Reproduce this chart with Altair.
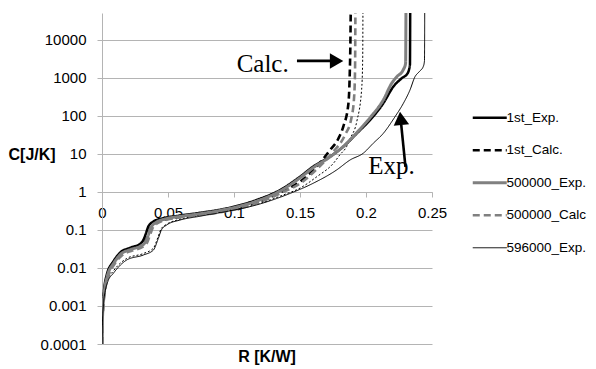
import altair as alt
import pandas as pd

SERIES = ["1st_Exp.", "1st_Calc.", "500000_Exp.", "500000_Calc", "596000_Exp."]
COLORS = ["#000000", "#000000", "#808080", "#808080", "#000000"]
DASHES = [[1, 0], [7, 4], [1, 0], [7, 4], [1, 0]]
WIDTHS = [2.5, 2.6, 3.0, 2.6, 1.0]

X_TICKS = [0, 0.05, 0.1, 0.15, 0.2, 0.25]
Y_TICKS = [0.0001, 0.001, 0.01, 0.1, 1, 10, 100, 1000, 10000]

r_1st_exp = [0, 0.0002, 0.0006, 0.0015, 0.0036, 0.0086, 0.0136, 0.0212, 0.0288, 0.0315, 0.0332,
             0.0351, 0.0389, 0.0464, 0.059, 0.074, 0.0919, 0.1172, 0.1348, 0.15, 0.1601, 0.1727,
             0.1828, 0.1930, 0.2030, 0.2131, 0.2207, 0.2270, 0.2315, 0.2333, 0.2335]
c_1st_exp = [0.0001, 0.000316, 0.001, 0.00251, 0.0066, 0.0148, 0.0251, 0.0339, 0.0427, 0.0562, 0.0794,
             0.123, 0.166, 0.204, 0.240, 0.282, 0.355, 0.617, 1.12, 2.51, 4.68, 8.51,
             15.5, 34.7, 77.6, 214, 589, 977, 1318, 2239, 100000]

r_1st_calc = [0, 0.0002, 0.0007, 0.0017, 0.004, 0.009, 0.014, 0.022, 0.030, 0.0335, 0.0352,
              0.0372, 0.041, 0.048, 0.06, 0.075, 0.0919, 0.1172, 0.1373, 0.15, 0.1627, 0.1727,
              0.1790, 0.1828, 0.1866, 0.1876, 0.1882, 0.1885]
c_1st_calc = [0.0001, 0.000282, 0.000891, 0.00224, 0.00631, 0.0138, 0.0234, 0.0316, 0.0398, 0.055, 0.0794,
              0.120, 0.158, 0.191, 0.224, 0.257, 0.316, 0.525, 1.07, 1.86, 4.68, 12.6,
              25.1, 52.5, 200, 1000, 10000, 100000]

r_500k_exp = [0, 0.0002, 0.0007, 0.0017, 0.004, 0.009, 0.014, 0.022, 0.030, 0.0335, 0.0352,
              0.0372, 0.041, 0.048, 0.06, 0.075, 0.0919, 0.1172, 0.1348, 0.15, 0.1601, 0.1727,
              0.1828, 0.1930, 0.2030, 0.2131, 0.2195, 0.2233, 0.2280, 0.2300, 0.2303]
c_500k_exp = [0.0001, 0.000282, 0.000891, 0.00224, 0.00603, 0.0135, 0.0229, 0.0309, 0.0389, 0.0525, 0.0759,
              0.117, 0.158, 0.195, 0.229, 0.269, 0.339, 0.575, 1.05, 2.34, 4.37, 8.32,
              15.8, 36.3, 89.1, 263, 724, 1072, 1585, 2399, 100000]

r_500k_calc = [0, 0.0002, 0.0008, 0.0019, 0.0045, 0.0095, 0.015, 0.023, 0.031, 0.0345, 0.0362,
               0.0382, 0.042, 0.049, 0.061, 0.076, 0.0919, 0.1172, 0.1373, 0.15, 0.1627, 0.1750,
               0.1841, 0.1890, 0.1910, 0.1917, 0.1920]
c_500k_calc = [0.0001, 0.000251, 0.000794, 0.002, 0.00562, 0.0126, 0.0214, 0.0288, 0.0363, 0.049, 0.0708,
               0.110, 0.151, 0.186, 0.219, 0.251, 0.302, 0.501, 1.0, 1.66, 3.98, 11.2,
               31.6, 89.1, 316, 1585, 100000]

r_596k_exp = [0, 0.0003, 0.001, 0.0025, 0.0045, 0.0086, 0.0187, 0.0313, 0.0389, 0.0427, 0.045,
              0.049, 0.059, 0.074, 0.0919, 0.1172, 0.1424, 0.1601, 0.1778, 0.1879, 0.1980, 0.2055,
              0.2131, 0.2220, 0.2283, 0.2333, 0.2371, 0.2405, 0.2434, 0.2443, 0.2445]
c_596k_exp = [0.0001, 0.000316, 0.001, 0.00251, 0.00447, 0.00724, 0.0162, 0.0219, 0.0295, 0.0603, 0.1,
              0.135, 0.182, 0.229, 0.295, 0.457, 0.912, 1.70, 3.80, 6.92, 10.5, 19.1,
              34.7, 95.5, 214, 479, 1072, 1479, 1995, 2818, 100000]

# thin dotted curve (no legend entry visible)
r_596k_calc = [0, 0.0003, 0.001, 0.0025, 0.0045, 0.0086, 0.0187, 0.0313, 0.0389, 0.0425, 0.0448,
               0.049, 0.059, 0.074, 0.0919, 0.1172, 0.1373, 0.15, 0.1627, 0.1752, 0.1803, 0.1854,
               0.1879, 0.1930, 0.1967, 0.1975, 0.1977]
c_596k_calc = [0.0001, 0.000355, 0.00112, 0.00282, 0.00501, 0.00832, 0.0178, 0.024, 0.0331, 0.0661, 0.107,
               0.141, 0.191, 0.240, 0.302, 0.468, 0.832, 1.26, 2.51, 5.62, 9.55, 15.8,
               25.1, 70.8, 501, 3162, 100000]

# annotations
ANN_TEXT = ["Calc.", "Exp."]
ANN_R = [0.1020, 0.2017]
ANN_C = [1466, 2.98]
ARROW_R = [0.1477, 0.2299]
ARROW_R2 = [0.1730, 0.2267]
ARROW_C = [2800, 4.55]
ARROW_C2 = [2800, 58.0]
HEAD_R = [0.1777, 0.2263]
HEAD_C = [2800, 86.5]
HEAD_SHAPE = ["triangle-right", "triangle-up"]
HEAD_ANGLE = [0, 354]

rows = []
for name, rs, cs, w in zip(
    SERIES,
    [r_1st_exp, r_1st_calc, r_500k_exp, r_500k_calc, r_596k_exp],
    [c_1st_exp, c_1st_calc, c_500k_exp, c_500k_calc, c_596k_exp],
    WIDTHS,
):
    for i, (r, c) in enumerate(zip(rs, cs)):
        rows.append({"series": name, "R": r, "C": c, "i": i, "w": w})
df = pd.DataFrame(rows)
df_dot = pd.DataFrame({"R": r_596k_calc, "C": c_596k_calc, "i": list(range(len(r_596k_calc)))})
df_ann = pd.DataFrame({"R": ANN_R, "C": ANN_C, "t": ANN_TEXT})
df_arrow = pd.DataFrame({"R": ARROW_R, "R2": ARROW_R2, "C": ARROW_C, "C2": ARROW_C2})
df_head = pd.DataFrame({"R": HEAD_R, "C": HEAD_C, "shape": HEAD_SHAPE, "angle": HEAD_ANGLE})

W, H = 330, 331
GRID = "#b4b4b4"
FONT = "Liberation Sans"

x_scale = alt.Scale(domain=[0, 0.25], nice=False, zero=False)
y_scale = alt.Scale(type="log", domain=[0.0001, 51000], nice=False)

x_axis = alt.Axis(values=X_TICKS, format="~g", title=None, offset=-152, grid=False,
                  labelFont=FONT, labelFontSize=15, labelColor="#000000", labelPadding=8,
                  labelFlush=False, labelOverlap=False, tickSize=5, tickColor=GRID,
                  domainColor=GRID)
y_axis = alt.Axis(values=Y_TICKS, format="~g", title="C[J/K]", titleAngle=0, titleAlign="left",
                  titleBaseline="middle", titleX=-94, titleY=141, titleFont=FONT,
                  titleFontSize=16, titleFontWeight="bold", titleColor="#000000",
                  labelFont=FONT, labelFontSize=15, labelColor="#000000", labelPadding=11,
                  labelOverlap=False, tickSize=5, tickColor=GRID, domainColor=GRID,
                  grid=True, gridColor=GRID)

legend = alt.Legend(orient="none", legendX=381, legendY=98, symbolType="stroke",
                    symbolSize=1156, title=None, labelFont=FONT, labelFontSize=13.5,
                    labelColor="#000000", rowPadding=17.5, padding=0, labelOffset=10,
                    labelLimit=0,
                    symbolStrokeWidth={"expr": "datum.value == '596000_Exp.' ? 1 : (datum.value == '500000_Exp.' ? 3 : 2.6)"})

lines = alt.Chart(df).mark_line(clip=True, interpolate="monotone").encode(
    x=alt.X("R:Q", scale=x_scale, axis=x_axis),
    y=alt.Y("C:Q", scale=y_scale, axis=y_axis),
    color=alt.Color("series:N", scale=alt.Scale(domain=SERIES, range=COLORS), legend=legend),
    strokeDash=alt.StrokeDash("series:N", scale=alt.Scale(domain=SERIES, range=DASHES), legend=legend),
    strokeWidth=alt.StrokeWidth("w:Q", scale=None),
    order="i:Q",
)

dotted = alt.Chart(df_dot).mark_line(clip=True, interpolate="monotone", color="#000000",
                                     strokeWidth=1, strokeDash=[2, 2]).encode(
    x=alt.X("R:Q", scale=x_scale),
    y=alt.Y("C:Q", scale=y_scale),
    order="i:Q",
)

arrows = alt.Chart(df_arrow).mark_rule(color="#000000", strokeWidth=2.6).encode(
    x=alt.X("R:Q", scale=x_scale), x2="R2:Q",
    y=alt.Y("C:Q", scale=y_scale), y2="C2:Q",
)

heads = alt.Chart(df_head).mark_point(filled=True, color="#000000", opacity=1, size=240).encode(
    x=alt.X("R:Q", scale=x_scale),
    y=alt.Y("C:Q", scale=y_scale),
    shape=alt.Shape("shape:N", scale=None),
    angle=alt.Angle("angle:Q", scale=None),
)

texts = alt.Chart(df_ann).mark_text(font="Liberation Serif", fontSize=25, align="left",
                                    baseline="alphabetic", color="#000000").encode(
    x=alt.X("R:Q", scale=x_scale),
    y=alt.Y("C:Q", scale=y_scale),
    text="t:N",
)

chart = alt.layer(dotted, lines, arrows, heads, texts).properties(
    width=W, height=H,
    title=alt.TitleParams("R [K/W]", orient="bottom", anchor="middle", font=FONT,
                          fontSize=16, fontWeight="bold", color="#000000", offset=-3),
    autosize=alt.AutoSizeParams(type="none"),
    padding={"left": 94, "top": 5, "right": 156, "bottom": 22},
).configure_view(stroke=None).configure_legend(symbolStrokeColor="#000000")

chart.save("out.html", embed_options={"renderer": "svg", "actions": False})
